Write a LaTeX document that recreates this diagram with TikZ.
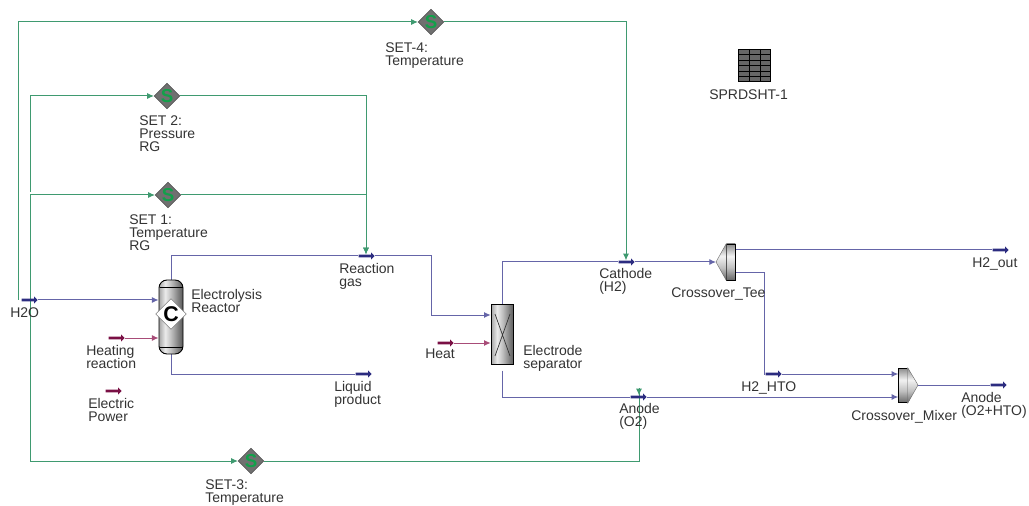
\documentclass[tikz,border=0pt]{standalone}
\usepackage{fontspec}
\setmainfont{Liberation Sans}
\usetikzlibrary{shapes.geometric,shapes.arrows,arrows.meta,backgrounds}
\definecolor{streamblue}{HTML}{6565A8}
\definecolor{tagblue}{HTML}{2C2C80}
\definecolor{signalgreen}{HTML}{3F9A70}
\definecolor{heatred}{HTML}{A84C78}
\definecolor{tagred}{HTML}{7A1045}
\definecolor{labelgray}{HTML}{333333}
\definecolor{setgray}{HTML}{707070}
\definecolor{setgreen}{HTML}{12A04A}
\pgfdeclarehorizontalshading{metalh}{100bp}{color(0bp)=(black!35); color(25bp)=(black!35);
  color(38bp)=(black!8); color(50bp)=(black!25); color(65bp)=(black!50); color(75bp)=(black!65); color(100bp)=(black!65)}
\pgfdeclareverticalshading{metalv}{100bp}{color(0bp)=(black!60); color(25bp)=(black!60);
  color(42bp)=(black!25); color(58bp)=(black!5); color(75bp)=(black!45); color(100bp)=(black!45)}
\begin{document}
\begin{tikzpicture}[x=0.75pt,y=-0.75pt,>={Latex[length=5pt,width=4.5pt]},
  stream/.style={draw=streamblue, line width=0.75pt},
  signal/.style={draw=signalgreen, line width=0.75pt},
  heatline/.style={draw=heatred, line width=0.75pt},
  tagarrow/.style={single arrow, draw=none, fill=tagblue, minimum height=12pt, minimum width=5.5pt,
    single arrow head extend=1pt, inner sep=0.4pt},
  heattag/.style={tagarrow, fill=tagred},
  setblock/.style={diamond, draw=black!70, line width=0.4pt, fill=setgray, minimum size=16.5pt, inner sep=0pt,
    text=setgreen, font=\fontsize{14}{14}\selectfont\bfseries},
  label/.style={anchor=north west, align=left, inner sep=0pt, text=labelgray,
    font=\fontsize{10.5}{10}\selectfont},
  metal/.style={draw=black, line width=0.7pt, inner sep=0pt, shading=metalh},
  metalflat/.style={draw=black, line width=0.6pt, inner sep=0pt, shading=metalv}
]
  \useasboundingbox (0,0) rectangle (1029,506);

  % stream tags
  \node[tagarrow] (h2o) at (29,300) {};
  \node[heattag] (heating) at (116,338) {};
  \node[heattag] (power) at (113,391) {};
  \node[tagarrow] (rgas) at (366,256) {};
  \node[tagarrow] (liquid) at (363,374) {};
  \node[heattag] (heat) at (445,343) {};
  \node[tagarrow] (cathode) at (626,262) {};
  \node[tagarrow] (anode) at (638,397) {};
  \node[tagarrow] (hto) at (773,374) {};
  \node[tagarrow] (h2out) at (1000,250) {};
  \node[tagarrow] (anodeout) at (998,385) {};

  % equipment
  \node[metal, rounded corners=6pt, minimum width=18pt, minimum height=55.5pt] (reactor) at (171,317) {};
  \draw[black, line width=0.7pt] (160,287) -- (183,287) (160,347) -- (183,347);
  \node[diamond, draw=black!50, fill=white, minimum size=17.5pt, inner sep=0pt,
    font=\fontsize{16}{16}\selectfont\bfseries] (cblock) at (171,314) {C};
  \node[metal, minimum width=17pt, minimum height=45.5pt] (sep) at (502.5,334.5) {};
  \draw[black!80, line width=0.5pt] (495,314) -- (510,356) (510,314) -- (495,356);
  \coordinate (teetip) at (716,262);
  \coordinate (teelow) at (735,273);
  \node[metalflat, minimum width=6.5pt, minimum height=27pt] (tee) at (731,262) {};
  \draw[line width=0.3pt, draw=black!60, shading=metalv]
    (tee.north west) -- (teetip) -- (tee.south west) -- cycle;
  \coordinate (mixtip) at (918,385);
  \node[metalflat, minimum width=6.5pt, minimum height=26pt] (mixer) at (903,385.5) {};
  \draw[line width=0.3pt, draw=black!60, shading=metalv]
    (mixer.north east) -- (mixtip) -- (mixer.south east) -- cycle;

  % spreadsheet
  \node[draw=black, line width=0.7pt, fill=black!60, minimum size=24.5pt, inner sep=0pt] (sheet) at (754.5,65.5) {};
  \foreach \i in {54.5,60,65.5,71,76.5} \draw[black, line width=0.6pt] (738,\i) -- (771,\i);
  \foreach \i in {749,760} \draw[black, line width=0.6pt] (\i,49) -- (\i,82);

  % set blocks
  \node[setblock] (set4) at (431,22) {S};
  \node[setblock] (set2) at (167,96) {S};
  \node[setblock] (set1) at (168,195) {S};
  \node[setblock] (set3) at (251,461) {S};

  \coordinate (rgturn) at (431,315);
  \coordinate (htoturn) at (764,374);
  \coordinate (h2oleft) at (18,300);
  \coordinate (h2oright) at (30,300);
  \coordinate (set1left) at (30,192);
  \coordinate (anodetop) at (639,388);

  \begin{scope}[on background layer]
    % process streams
    \draw[stream,->] (h2o) -- (reactor.west |- h2o);
    \draw[heatline,->] (heating) -- (reactor.west |- heating);
    \draw[stream] (reactor.north) |- (rgas);
    \draw[stream,->] (rgas) -| (rgturn) -- (sep.west |- rgturn);
    \draw[stream] (reactor.south) |- (liquid);
    \draw[heatline,->] (heat) -- (sep.west |- heat);
    \draw[stream] (sep.north) |- (cathode);
    \draw[stream,->] (cathode) -- (teetip);
    \draw[stream] ([yshift=-4pt]sep.south) |- (anode);
    \draw[stream,->] (anode) -- (mixer.west |- anode);
    \draw[stream] (tee.east |- h2out) -- (h2out);
    \draw[stream] (teelow) -| (htoturn) -- (hto);
    \draw[stream,->] (hto) -- (mixer.west |- hto);
    \draw[stream] (mixtip) -- (anodeout);

    % control lines
    \draw[signal,->] (h2oleft) |- (set4);
    \draw[signal,->] (set4) -| (cathode.north);
    \draw[signal,->] (set1left) |- (set2);
    \draw[signal,->] (set2) -| (rgas.north);
    \draw[signal,->] (h2oright) |- (set1);
    \draw[signal,->] (set1) -| (rgas.north);
    \draw[signal,->] (h2oright) |- (set3);
    \draw[signal] (set3) -| (anodetop);
    \draw[signal,->] (anodetop) -- (anode.north -| anodetop);
  \end{scope}

  % labels
  \node[label] (set4text) at (385,42) {SET-4:\\Temperature};
  \node[label] (set2text) at (139,115) {SET 2:\\Pressure\\RG};
  \node[label] (set1text) at (129,214) {SET 1:\\Temperature\\RG};
  \node[label] (set3text) at (205,479) {SET-3:\\Temperature};
  \node[label] (sheettext) at (709,89) {SPRDSHT-1};
  \node[label] (h2otext) at (10,307) {H2O};
  \node[label] (reactortext) at (191,289) {Electrolysis\\Reactor};
  \node[label] (heatingtext) at (86,345) {Heating\\reaction};
  \node[label] (powertext) at (88,398) {Electric\\Power};
  \node[label] (rgastext) at (339,263) {Reaction\\gas};
  \node[label] (liquidtext) at (334,381) {Liquid\\product};
  \node[label] (heattext) at (425,349) {Heat};
  \node[label] (septext) at (523,345) {Electrode\\separator};
  \node[label] (cathodetext) at (599,268) {Cathode\\(H2)};
  \node[label] (teetext) at (671,287) {Crossover\_Tee};
  \node[label] (anodetext) at (619,403) {Anode\\(O2)};
  \node[label] (htotext) at (741,381) {H2\_HTO};
  \node[label] (mixertext) at (851,410) {Crossover\_Mixer};
  \node[label] (h2outtext) at (972,257) {H2\_out};
  \node[label] (anodeouttext) at (961,392) {Anode\\(O2+HTO)};
\end{tikzpicture}
\end{document}
